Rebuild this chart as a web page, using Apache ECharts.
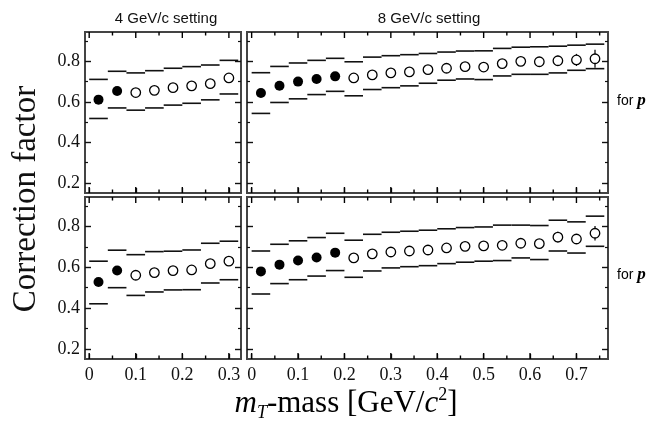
<!DOCTYPE html>
<html>
<head>
<meta charset="utf-8">
<script src="https://cdn.jsdelivr.net/npm/echarts@6/dist/echarts.min.js"></script>
<style>
html,body{margin:0;padding:0;background:#fff;}
#c{width:650px;height:431px;}
</style>
</head>
<body>
<div id="c"></div>
<script>
// ---------- data ----------
const binWidth = 0.04;
const xs4 = [0.02,0.06,0.10,0.14,0.18,0.22,0.26,0.30];
const xs8 = [0.02,0.06,0.10,0.14,0.18,0.22,0.26,0.30,0.34,0.38,0.42,0.46,0.50,0.54,0.58,0.62,0.66,0.70,0.74];
const filled4 = 2;   // number of filled (measured) points, 4 GeV/c
const filled8 = 5;   // number of filled (measured) points, 8 GeV/c

const topLeftVal = [0.611,0.654,0.646,0.657,0.670,0.679,0.690,0.718];
const topLeftHi  = [0.711,0.751,0.743,0.754,0.766,0.774,0.782,0.805];
const topLeftLo  = [0.518,0.570,0.559,0.570,0.584,0.593,0.610,0.639];
const topLeftErr = [0,0,0,0,0,0,0,0];

const topRightVal = [0.644,0.680,0.700,0.713,0.726,0.718,0.733,0.743,0.748,0.759,0.766,0.774,0.772,0.789,0.800,0.798,0.803,0.807,0.813];
const topRightHi  = [0.744,0.775,0.792,0.805,0.815,0.798,0.821,0.828,0.833,0.839,0.846,0.851,0.852,0.864,0.870,0.872,0.875,0.880,0.885];
const topRightLo  = [0.543,0.597,0.615,0.636,0.652,0.630,0.661,0.670,0.679,0.692,0.707,0.713,0.710,0.728,0.736,0.736,0.743,0.756,0.764];
const topRightErr = [0,0,0,0,0,0,0,0,0,0,0,0,0,0.018,0.02,0.02,0.025,0.03,0.044];

const bottomLeftVal = [0.528,0.584,0.561,0.574,0.584,0.587,0.618,0.630];
const bottomLeftHi  = [0.630,0.684,0.662,0.677,0.679,0.685,0.718,0.728];
const bottomLeftLo  = [0.421,0.500,0.462,0.479,0.489,0.490,0.523,0.539];
const bottomLeftErr = [0,0,0,0,0,0,0,0];

const bottomRightVal = [0.580,0.613,0.633,0.648,0.672,0.646,0.666,0.675,0.680,0.685,0.695,0.703,0.705,0.708,0.718,0.716,0.748,0.739,0.767];
const bottomRightHi  = [0.680,0.713,0.730,0.746,0.767,0.733,0.762,0.772,0.777,0.782,0.789,0.795,0.798,0.807,0.807,0.805,0.831,0.823,0.851];
const bottomRightLo  = [0.469,0.520,0.539,0.557,0.584,0.551,0.582,0.597,0.603,0.608,0.618,0.625,0.630,0.633,0.646,0.638,0.680,0.670,0.703];
const bottomRightErr = [0,0,0,0,0,0,0,0,0,0,0,0,0,0.015,0.018,0.018,0.026,0.024,0.036];

const xLabels4 = [0,0.1,0.2,0.3];
const xMinor4  = [0.05,0.15,0.25];
const xLabels8 = [0,0.1,0.2,0.3,0.4,0.5,0.6,0.7];
const xMinor8  = [0.05,0.15,0.25,0.35,0.45,0.55,0.65,0.75];
const yMajor = [0.2,0.4,0.6,0.8];
const yMinor = [0.3,0.5,0.7,0.9];

const settingTitles = ['4 GeV/c setting','8 GeV/c setting'];
const rowLabels = ['for ','for '];
const yTitle = 'Correction factor';

// ---------- layout ----------
const panels = [
  {left:85, width:156, top:32, height:161, xs:xs4, val:topLeftVal, hi:topLeftHi, lo:topLeftLo, err:topLeftErr, nf:filled4, xmin:-0.009, xmax:0.326, lab:xLabels4, minor:xMinor4, showX:false, showY:true},
  {left:247, width:361, top:32, height:161, xs:xs8, val:topRightVal, hi:topRightHi, lo:topRightLo, err:topRightErr, nf:filled8, xmin:-0.01, xmax:0.768, lab:xLabels8, minor:xMinor8, showX:false, showY:false},
  {left:85, width:156, top:197, height:162, xs:xs4, val:bottomLeftVal, hi:bottomLeftHi, lo:bottomLeftLo, err:bottomLeftErr, nf:filled4, xmin:-0.009, xmax:0.326, lab:xLabels4, minor:xMinor4, showX:true, showY:true},
  {left:247, width:361, top:197, height:162, xs:xs8, val:bottomRightVal, hi:bottomRightHi, lo:bottomRightLo, err:bottomRightErr, nf:filled8, xmin:-0.01, xmax:0.768, lab:xLabels8, minor:xMinor8, showX:true, showY:false}
];

const YMIN = 0.15, YMAX = 0.945;
const INK = '#111';
const serif = '"Liberation Serif","DejaVu Serif",serif';
const sans = '"Liberation Sans",Arial,sans-serif';

const grid = [], xAxis = [], yAxis = [], series = [];
const fmt = v => (v === 0 ? '0' : String(+v.toFixed(2)));

panels.forEach((p, i) => {
  grid.push({left:p.left, top:p.top, width:p.width, height:p.height, show:true,
             borderColor:'#444', borderWidth:2, backgroundColor:'transparent'});
  xAxis.push({type:'value', gridIndex:i, min:p.xmin, max:p.xmax, position:'bottom',
    axisLine:{show:false, onZero:false}, splitLine:{show:false},
    axisTick:{show:true, inside:true, length:5, customValues:p.lab, lineStyle:{color:INK, width:1.3}},
    axisLabel:{show:p.showX, customValues:p.lab, formatter:fmt, margin:7,
      fontFamily:serif, fontSize:18, color:'#111'}});
  const yBase = {type:'value', gridIndex:i, min:YMIN, max:YMAX,
    axisLine:{show:false, onZero:false}, splitLine:{show:false}};
  yAxis.push(Object.assign({}, yBase, {position:'left',
    axisTick:{show:true, inside:true, length:6, customValues:yMajor, lineStyle:{color:INK,width:1.4}},
    axisLabel:{show:p.showY, customValues:yMajor, formatter:fmt, margin:5,
      fontFamily:serif, fontSize:18, color:'#111'}}));
  yAxis.push(Object.assign({}, yBase, {position:'left',
    axisTick:{show:true, inside:true, length:3, customValues:yMinor, lineStyle:{color:INK,width:1.2}},
    axisLabel:{show:false}}));
  yAxis.push(Object.assign({}, yBase, {position:'right',
    axisTick:{show:true, inside:true, length:6, customValues:yMajor, lineStyle:{color:INK,width:1.4}},
    axisLabel:{show:false}}));
  yAxis.push(Object.assign({}, yBase, {position:'right',
    axisTick:{show:true, inside:true, length:3, customValues:yMinor, lineStyle:{color:INK,width:1.2}},
    axisLabel:{show:false}}));

  const xi = i, yi = 4*i;
  // x tick marks on the bottom and top edges, positioned through the x scale
  const tickData = p.lab.map(t=>[t, 0.5, 6]).concat(p.minor.map(t=>[t, 0.5, 3.5]));
  series.push({type:'custom', xAxisIndex:xi, yAxisIndex:yi, silent:true, clip:false,
    data: tickData,
    renderItem:(params, api) => {
      const t = api.value(0), len = api.value(2);
      const b = api.coord([t, YMIN]);
      const u = api.coord([t, YMAX]);
      return {type:'group', children:[
        {type:'rect', shape:{x:b[0]-0.7, y:b[1]-len, width:1.4, height:len}, style:{fill:'#000'}},
        {type:'rect', shape:{x:u[0]-0.7, y:u[1], width:1.4, height:len}, style:{fill:'#000'}}
      ]};
    }, z:10});
  // systematic band: horizontal segments spanning each bin
  series.push({type:'custom', xAxisIndex:xi, yAxisIndex:yi, silent:true,
    data: p.xs.map((x,k)=>[x, p.hi[k], p.lo[k]]),
    renderItem:(params, api) => {
      const x = api.value(0);
      const a1 = api.coord([x - binWidth/2, api.value(1)]);
      const a2 = api.coord([x + binWidth/2, api.value(1)]);
      const b1 = api.coord([x - binWidth/2, api.value(2)]);
      const b2 = api.coord([x + binWidth/2, api.value(2)]);
      return {type:'group', children:[
        {type:'line', shape:{x1:a1[0],y1:a1[1],x2:a2[0],y2:a2[1]}, style:{stroke:INK,lineWidth:1.6}},
        {type:'line', shape:{x1:b1[0],y1:b1[1],x2:b2[0],y2:b2[1]}, style:{stroke:INK,lineWidth:1.6}}
      ]};
    }, z:2});
  // statistical error bars
  series.push({type:'custom', xAxisIndex:xi, yAxisIndex:yi, silent:true,
    data: p.xs.map((x,k)=>[x, p.val[k], p.err[k]]).filter(d=>d[2]>0),
    renderItem:(params, api) => {
      const x = api.value(0), v = api.value(1), e = api.value(2);
      const t = api.coord([x, v+e]), b = api.coord([x, v-e]);
      return {type:'line', shape:{x1:t[0],y1:t[1],x2:b[0],y2:b[1]}, style:{stroke:INK,lineWidth:1.3}};
    }, z:3});
  // filled points
  series.push({type:'scatter', xAxisIndex:xi, yAxisIndex:yi, symbol:'circle', symbolSize:10,
    itemStyle:{color:'#000', opacity:1}, silent:true, z:4,
    data: p.xs.slice(0,p.nf).map((x,k)=>[x, p.val[k]])});
  // open points
  series.push({type:'scatter', xAxisIndex:xi, yAxisIndex:yi, symbol:'circle', symbolSize:9.5,
    itemStyle:{color:'#fff', borderColor:'#000', borderWidth:1.3, opacity:1}, silent:true, z:4,
    data: p.xs.slice(p.nf).map((x,k)=>[x, p.val[k+p.nf]])});
});

const option = {
  animation:false,
  backgroundColor:'#fff',
  grid, xAxis, yAxis, series,
  graphic:[
    {type:'text', x:166, y:19, style:{text:settingTitles[0], font:'15px '+sans, fill:'#111', textAlign:'center', textVerticalAlign:'middle'}},
    {type:'text', x:429, y:19, style:{text:settingTitles[1], font:'15px '+sans, fill:'#111', textAlign:'center', textVerticalAlign:'middle'}},
    {type:'text', x:26, y:199, rotation:Math.PI/2, style:{text:yTitle, font:'33px '+serif, fill:'#111', textAlign:'center', textVerticalAlign:'middle'}},
    {type:'text', x:617, y:101, style:{text:'{a|'+rowLabels[0]+'}{b|p}', textVerticalAlign:'middle',
       rich:{a:{fontFamily:sans, fontSize:14, color:'#111'}, b:{fontFamily:serif, fontStyle:'italic', fontWeight:'bold', fontSize:17, color:'#111'}}}},
    {type:'text', x:617, y:275, style:{text:'{a|'+rowLabels[1]+'}{b|p}', textVerticalAlign:'middle',
       rich:{a:{fontFamily:sans, fontSize:14, color:'#111'}, b:{fontFamily:serif, fontStyle:'italic', fontWeight:'bold', fontSize:17, color:'#111'}}}},
    {type:'text', x:346, y:404, style:{text:'{i|m}{s|T}{n|-mass [GeV/}{i|c}{p|2}{n|]}', textAlign:'center', textVerticalAlign:'middle',
       rich:{
         i:{fontFamily:serif, fontStyle:'italic', fontSize:31, color:'#111', lineHeight:36},
         n:{fontFamily:serif, fontSize:31, color:'#111', lineHeight:36},
         s:{fontFamily:serif, fontStyle:'italic', fontSize:18, color:'#111', verticalAlign:'bottom', lineHeight:36, padding:[12,0,0,0]},
         p:{fontFamily:serif, fontSize:18, color:'#111', verticalAlign:'top', lineHeight:36, padding:[0,0,10,0]}
       }}}
  ]
};

const chart = echarts.init(document.getElementById('c'), null, {renderer:'canvas'});
chart.setOption(option);
</script>
</body>
</html>
